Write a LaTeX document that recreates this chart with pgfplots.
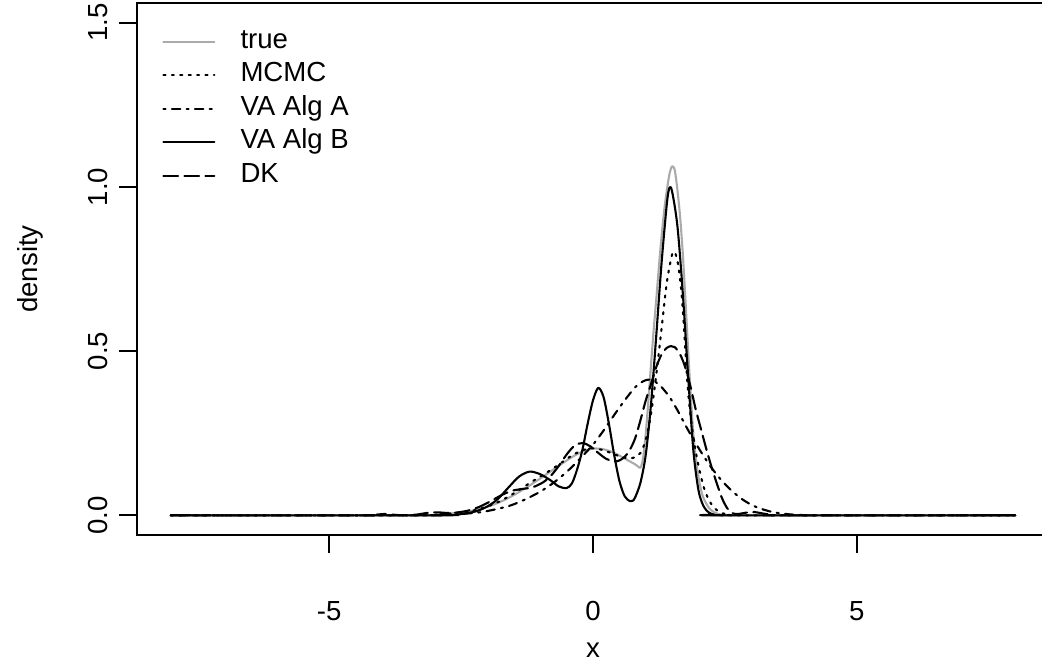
\documentclass[border=0pt]{standalone}
\usepackage{pgfplots}
\pgfplotsset{compat=1.18}
\usepackage{fontspec}
\setmainfont{Liberation Sans}
\definecolor{truegray}{RGB}{170,170,170}
\begin{document}
\fontsize{13.8pt}{16pt}\selectfont
\begin{tikzpicture}[font=\fontsize{13.8pt}{16pt}\selectfont]
\begin{axis}[
  scale only axis,
  width=456pt, height=266pt,
  xmin=-8.64, xmax=8.64, ymin=-0.06, ymax=1.56,
  xtick={-5,0,5}, xticklabels={-5,0,5},
  ytick={0,0.5,1,1.5}, yticklabels={0.0,0.5,1.0,1.5},
  tick align=outside, tick pos=left,
  major tick length=9pt,
  every tick/.style={black, line width=0.9pt},
  axis line style={line width=0.9pt},
  xticklabel style={anchor=center, yshift=-29pt},
  yticklabel style={anchor=center, rotate=90, yshift=10.5pt},
  xlabel={x}, ylabel={density},
  xlabel style={at={(axis description cs:0.5,0)}, anchor=center, yshift=-57.5pt},
  ylabel style={at={(axis description cs:0,0.5)}, anchor=center, yshift=53.5pt},
  legend cell align=left,
  legend image code/.code={\draw[#1] (0pt,0pt) -- (25.5pt,0pt);},
  legend style={draw=none, fill=none, at={(axis description cs:0,1)}, anchor=north west,
    xshift=12.5pt, yshift=-12.5pt, inner sep=0pt, row sep=3.25pt, column sep=12.5pt,
    nodes={inner sep=0pt, text height=10pt, text depth=3.5pt},
    font=\fontsize{13.8pt}{16pt}\selectfont},
  every axis plot/.append style={line width=1.05pt, line cap=round, line join=round},
]
\coordinate (BL) at (rel axis cs:0,0);
\coordinate (TL) at (rel axis cs:0,1);
% true
\addplot[truegray, smooth] coordinates {
(-8,0) (-3.2,0) (-3.0,0.002) (-2.8,0.004) (-2.6,0.007) (-2.4,0.011) (-2.2,0.017) (-2.0,0.026) (-1.8,0.038) (-1.6,0.053) (-1.4,0.071) (-1.2,0.091) (-1.0,0.112) (-0.8,0.134) (-0.6,0.156) (-0.4,0.177) (-0.2,0.194) (0.0,0.203) (0.2,0.201) (0.4,0.19) (0.6,0.173) (0.7,0.164) (0.8,0.155) (0.85,0.149) (0.9,0.145) (0.95,0.175) (1.0,0.25) (1.05,0.35) (1.1,0.46) (1.15,0.565) (1.2,0.66) (1.25,0.76) (1.3,0.85) (1.35,0.93) (1.4,0.99) (1.45,1.04) (1.5,1.063) (1.55,1.05) (1.6,0.99) (1.65,0.91) (1.7,0.8) (1.75,0.66) (1.8,0.51) (1.85,0.37) (1.9,0.25) (1.95,0.17) (2.0,0.115) (2.05,0.075) (2.1,0.05) (2.2,0.022) (2.3,0.009) (2.4,0.003) (2.5,0.001) (2.6,0) (8,0)
};
\addlegendentry{true}
% MCMC
\addplot[black, smooth, dash pattern=on 1.05pt off 3.15pt] coordinates {
(-8,0) (-3.2,0) (-3.0,0.002) (-2.8,0.004) (-2.6,0.007) (-2.4,0.011) (-2.2,0.017) (-2.0,0.027) (-1.8,0.04) (-1.6,0.057) (-1.4,0.077) (-1.2,0.098) (-1.0,0.118) (-0.8,0.138) (-0.6,0.16) (-0.4,0.182) (-0.2,0.198) (0.0,0.204) (0.2,0.198) (0.4,0.186) (0.55,0.177) (0.7,0.174) (0.8,0.177) (0.9,0.19) (1.0,0.23) (1.1,0.31) (1.2,0.43) (1.3,0.57) (1.4,0.71) (1.5,0.795) (1.55,0.8) (1.6,0.775) (1.65,0.72) (1.7,0.63) (1.8,0.38) (1.9,0.24) (2.0,0.15) (2.1,0.085) (2.2,0.045) (2.3,0.022) (2.4,0.01) (2.5,0.004) (2.6,0.001) (2.7,0) (8,0)
};
\addlegendentry{MCMC}
% VA Alg A
\addplot[black, smooth, dash pattern=on 1.05pt off 3.15pt on 4.2pt off 3.15pt] coordinates {
(-8,0) (-3.2,0) (-3.0,0.001) (-2.6,0.003) (-2.2,0.008) (-2.0,0.013) (-1.8,0.02) (-1.6,0.028) (-1.4,0.04) (-1.2,0.055) (-1.0,0.072) (-0.8,0.093) (-0.6,0.118) (-0.4,0.147) (-0.2,0.18) (0.0,0.215) (0.2,0.258) (0.4,0.305) (0.6,0.35) (0.8,0.39) (0.95,0.408) (1.05,0.413) (1.15,0.41) (1.3,0.39) (1.45,0.36) (1.6,0.32) (1.8,0.26) (2.0,0.205) (2.2,0.155) (2.4,0.113) (2.6,0.079) (2.8,0.052) (3.0,0.032) (3.2,0.019) (3.4,0.01) (3.6,0.005) (3.8,0.002) (4.0,0.0005) (4.2,0) (8,0)
};
\addlegendentry{VA Alg A}
% VA Alg B
\addplot[black, smooth] coordinates {
(-8,0) (-3.0,0) (-2.6,0.002) (-2.4,0.006) (-2.2,0.013) (-2.0,0.027) (-1.8,0.05) (-1.6,0.085) (-1.4,0.118) (-1.2,0.133) (-1.0,0.125) (-0.8,0.106) (-0.65,0.088) (-0.5,0.083) (-0.4,0.097) (-0.3,0.14) (-0.2,0.2) (-0.1,0.28) (0.0,0.35) (0.1,0.388) (0.2,0.36) (0.3,0.28) (0.4,0.185) (0.5,0.105) (0.6,0.058) (0.7,0.043) (0.75,0.044) (0.8,0.055) (0.9,0.1) (1.0,0.185) (1.1,0.34) (1.2,0.55) (1.3,0.77) (1.4,0.95) (1.45,0.998) (1.5,0.985) (1.6,0.88) (1.7,0.68) (1.8,0.43) (1.9,0.2) (2.0,0.075) (2.1,0.026) (2.2,0.008) (2.3,0.002) (2.4,0) (8,0)
};
\addlegendentry{VA Alg B}
% DK
\addplot[black, smooth, dash pattern=on 7.35pt off 3.15pt] coordinates {
(-8,0) (-4.3,0) (-4.1,0.002) (-3.95,0.004) (-3.8,0.002) (-3.6,0.0) (-3.35,0.002) (-3.15,0.007) (-2.95,0.009) (-2.75,0.007) (-2.55,0.009) (-2.35,0.015) (-2.15,0.026) (-1.95,0.042) (-1.75,0.06) (-1.55,0.074) (-1.35,0.08) (-1.15,0.085) (-0.95,0.1) (-0.8,0.12) (-0.65,0.15) (-0.5,0.185) (-0.35,0.212) (-0.2,0.22) (-0.05,0.21) (0.1,0.19) (0.25,0.172) (0.4,0.164) (0.5,0.167) (0.6,0.178) (0.7,0.2) (0.8,0.235) (0.9,0.29) (1.0,0.35) (1.1,0.4) (1.2,0.452) (1.3,0.49) (1.4,0.51) (1.48,0.515) (1.55,0.512) (1.65,0.49) (1.75,0.45) (1.85,0.39) (1.95,0.32) (2.05,0.26) (2.15,0.2) (2.25,0.145) (2.35,0.095) (2.45,0.05) (2.55,0.02) (2.65,0.006) (2.75,0.004) (2.9,0.008) (3.05,0.01) (3.2,0.006) (3.4,0.001) (3.6,0) (8,0)
};
\addlegendentry{DK}
\end{axis}
\pgfresetboundingbox
\path[use as bounding box] ([xshift=-68.5pt,yshift=-66pt]BL) rectangle ([xshift=452.5pt,yshift=1.5pt]TL);
\end{tikzpicture}
\end{document}
